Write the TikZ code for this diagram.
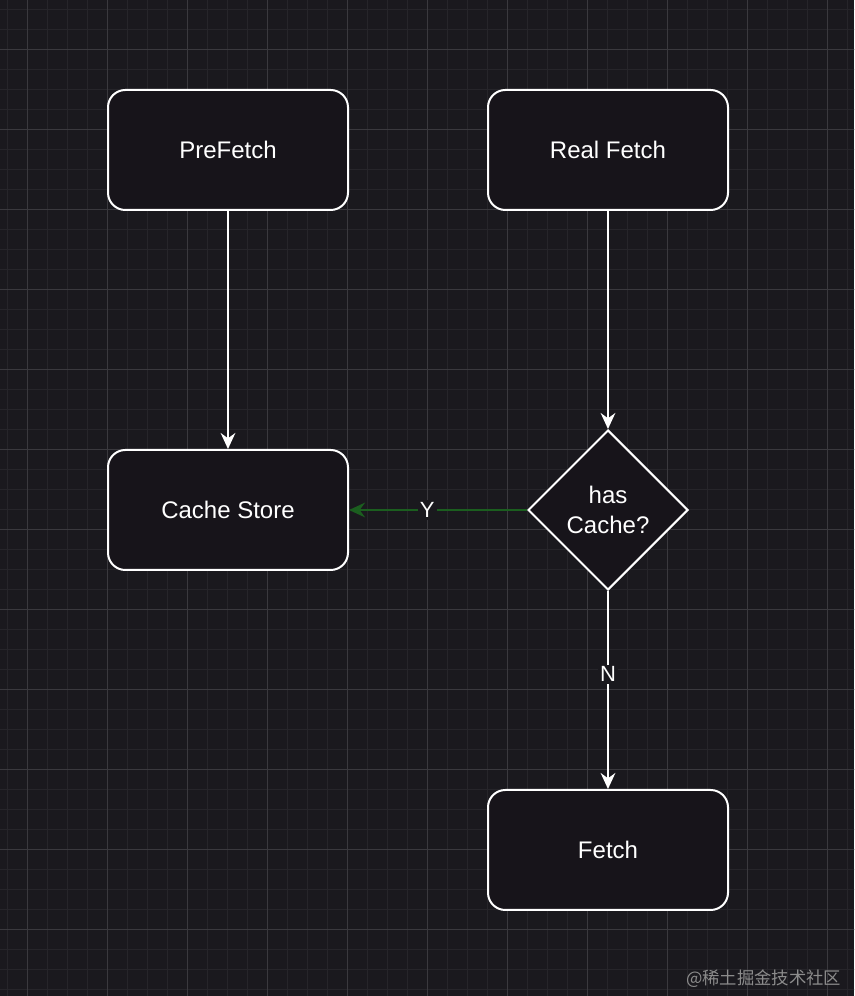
\documentclass[tikz,border=0pt]{standalone}
\usepackage{fontspec}
\setmainfont{Liberation Sans}
\newfontfamily\cjkfont{Noto Sans CJK SC}
\usetikzlibrary{shapes.geometric,arrows.meta}
\definecolor{bgcol}{HTML}{1A191E}
\definecolor{boxcol}{HTML}{17141A}
\definecolor{minorcol}{HTML}{26252A}
\definecolor{majorcol}{HTML}{3A393E}
\definecolor{yescol}{HTML}{1B5E1F}
\definecolor{markcol}{HTML}{8C8C8C}
\tikzset{
  box/.style={draw=white, fill=boxcol, line width=1.5pt, rounded corners=13pt,
    minimum width=180pt, minimum height=90pt, text=white,
    font=\fontsize{18}{21}\selectfont},
  decision/.style={draw=white, fill=boxcol, line width=1.5pt, diamond, aspect=1,
    inner sep=0pt, minimum width=120pt, minimum height=120pt, text=white,
    align=center, font=\fontsize{18}{22}\selectfont},
  flow/.style={draw=white, line width=1.5pt, -{Stealth[length=12pt,width=11pt,inset=4pt]}},
  answer/.style={fill=bgcol, text=white, inner sep=1.5pt, font=\fontsize{16.5}{19}\selectfont}
}

\begin{document}
\begin{tikzpicture}[x=0.75pt, y=0.75pt]
	\useasboundingbox (0,0) rectangle (854,996);
	\begin{scope}
	\clip (0,0) rectangle (854,996);
	\fill[bgcol] (0,0) rectangle (854,996);
	\begin{scope}[shift={(7,7)}]
		\draw[minorcol, line width=0.6pt, step=15pt] (-20,-20) grid (880,1010);
	\end{scope}
	\begin{scope}[shift={(27,67)}]
		\draw[majorcol, line width=0.7pt, step=60pt] (-80,-80) grid (880,1010);
	\end{scope}
	\end{scope}

	\node[box] (prefetch) at (228,846) {PreFetch};
	\node[box] (realfetch) at (608,846) {Real Fetch};
	\node[box] (cachestore) at (228,486) {Cache Store};
	\node[decision] (hascache) at (608,486) {has\\Cache?};
	\node[box] (fetch) at (608,146) {Fetch};

	\draw[flow] (prefetch) -- (cachestore);
	\draw[flow] (realfetch) -- (hascache);
	\draw[flow, draw=yescol] (hascache) -- node[answer, pos=0.56] {Y} (cachestore);
	\draw[flow] (hascache) -- node[answer, pos=0.42] {N} (fetch);

	\node[anchor=east, text=markcol, font=\cjkfont\fontsize{13}{15}\selectfont]
		(mark) at (846,17) {@稀土掘金技术社区};
\end{tikzpicture}
\end{document}
